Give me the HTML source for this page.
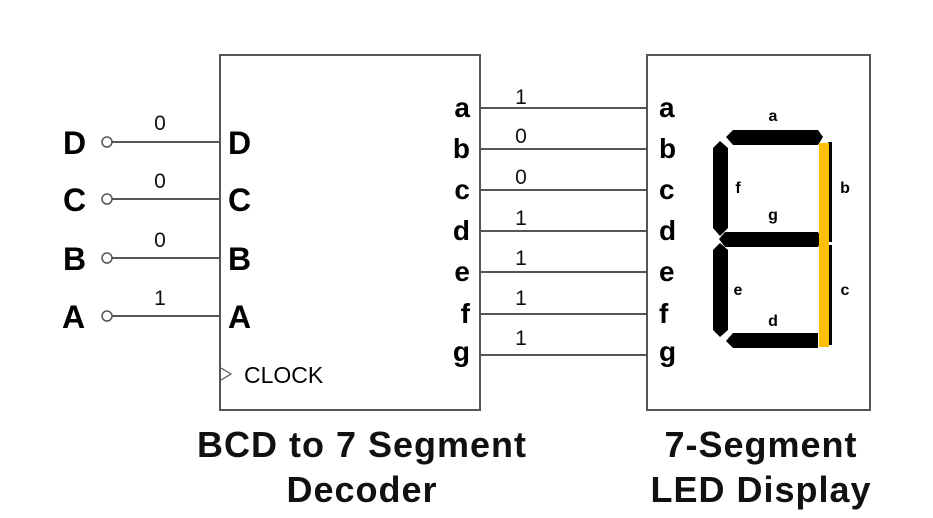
<!DOCTYPE html><html><head><style>body{margin:0;background:#fff}svg{display:block}
.b{font-family:"Liberation Sans",Arial,sans-serif;font-weight:bold}
.r{font-family:"Liberation Sans",Arial,sans-serif}</style></head><body>
<svg width="933" height="518" xmlns="http://www.w3.org/2000/svg">
<g fill="none" stroke="#555" stroke-width="2">
<rect x="220" y="55" width="260" height="355"/>
<rect x="647" y="55" width="223" height="355"/>
<line x1="112" y1="142" x2="220" y2="142"/><line x1="112" y1="199" x2="220" y2="199"/>
<line x1="112" y1="258" x2="220" y2="258"/><line x1="112" y1="316" x2="220" y2="316"/>
<line x1="480" y1="108" x2="647" y2="108"/><line x1="480" y1="149" x2="647" y2="149"/>
<line x1="480" y1="190" x2="647" y2="190"/><line x1="480" y1="231" x2="647" y2="231"/>
<line x1="480" y1="272" x2="647" y2="272"/><line x1="480" y1="314" x2="647" y2="314"/>
<line x1="480" y1="355" x2="647" y2="355"/>
<circle cx="107" cy="142" r="5" stroke-width="1.5"/><circle cx="107" cy="199" r="5" stroke-width="1.5"/>
<circle cx="107" cy="258" r="5" stroke-width="1.5"/><circle cx="107" cy="316" r="5" stroke-width="1.5"/>
<polyline points="221,368 231,374 221,380" stroke-width="1.2"/>
</g>
<g class="b" font-size="32" fill="#000">
<text x="63" y="154">D</text><text x="63" y="211">C</text><text x="63" y="270">B</text><text x="62" y="328">A</text>
<text x="228" y="154">D</text><text x="228" y="211">C</text><text x="228" y="270">B</text><text x="228" y="328">A</text>
</g>
<g class="b" font-size="28" fill="#000" text-anchor="end">
<text x="470" y="117">a</text><text x="470" y="158">b</text><text x="470" y="199">c</text><text x="470" y="240">d</text><text x="470" y="281">e</text><text x="470" y="323">f</text><text x="470" y="361">g</text>
</g>
<g class="b" font-size="28" fill="#000">
<text x="659" y="117">a</text><text x="659" y="158">b</text><text x="659" y="199">c</text><text x="659" y="240">d</text><text x="659" y="281">e</text><text x="659" y="323">f</text><text x="659" y="361">g</text>
</g>
<text class="r" x="244" y="383" font-size="23" fill="#000">CLOCK</text>
<g class="r" font-size="21" fill="#111" text-anchor="middle">
<text x="160" y="130">0</text><text x="160" y="188">0</text><text x="160" y="247">0</text><text x="160" y="305">1</text>
<text x="521" y="104">1</text><text x="521" y="143">0</text><text x="521" y="184">0</text><text x="521" y="225">1</text>
<text x="521" y="265">1</text><text x="521" y="305">1</text><text x="521" y="345">1</text>
</g>
<g fill="#000">
<polygon points="733,130 818,130 823,137 818,145 733,145 726,137"/>
<polygon points="725,232 818,232 822,239 818,247 725,247 719,239"/>
<polygon points="733,333 818,333 818,348 733,348 726,341"/>
<polygon points="713,148 720,141 728,148 728,228 720,236 713,228"/>
<polygon points="713,250 720,243 728,250 728,330 720,337 713,330"/>
<rect x="828" y="142" width="4" height="100"/><rect x="828" y="245" width="4" height="100"/>
</g>
<rect x="819" y="143" width="10" height="102" fill="#ffbf00"/>
<rect x="819" y="245" width="10" height="102" fill="#ffbf00"/>
<g class="b" font-size="16" fill="#000" text-anchor="middle">
<text x="773" y="121">a</text><text x="738" y="193">f</text><text x="773" y="220">g</text><text x="845" y="193">b</text>
<text x="738" y="295">e</text><text x="845" y="295">c</text><text x="773" y="326">d</text>
</g>
<g class="b" font-size="36" fill="#111" text-anchor="middle" letter-spacing="1">
<text x="362" y="457">BCD to 7 Segment</text><text x="362" y="502">Decoder</text>
<text x="761" y="457">7-Segment</text><text x="761" y="502">LED Display</text>
</g>
</svg></body></html>
